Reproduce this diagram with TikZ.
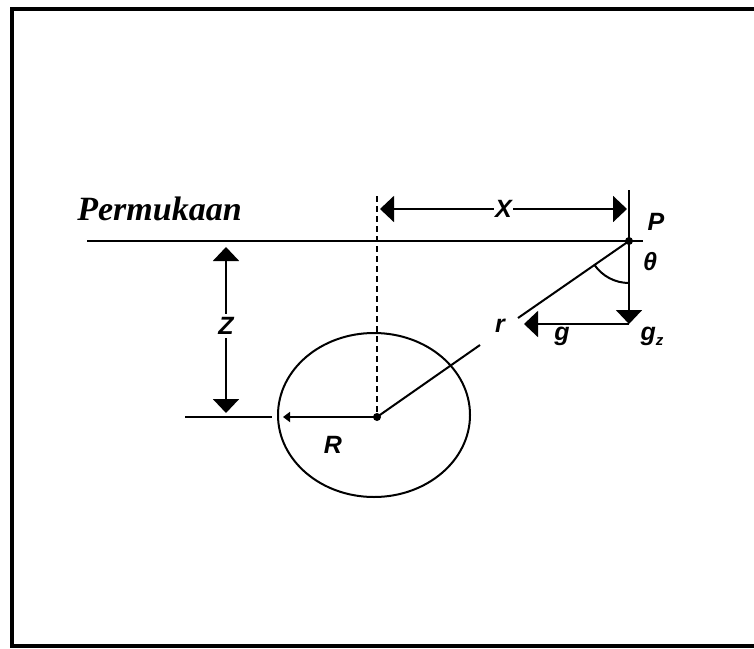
\documentclass[tikz,border=0pt]{standalone}
\usepackage{fontspec}
\setmainfont{Liberation Sans}
\newfontfamily\surffont{Liberation Serif}
\usetikzlibrary{arrows.meta}

\tikzset{
  lbl/.style={font=\fontsize{25}{30}\selectfont\bfseries\itshape, inner sep=1pt},
  bigtip/.style={-{Triangle[width=26pt,length=14pt]}},
  bigtips/.style={{Triangle[width=26pt,length=14pt]}-{Triangle[width=26pt,length=14pt]}},
}

\begin{document}
\begin{tikzpicture}[x=1pt, y=-1pt, line width=2pt]
    % --- canvas (pixel units, y downwards) ---
    \useasboundingbox (0,0) rectangle (754,648);
    \clip (0,0) rectangle (754,648);

    % --- frame ---
    \draw[line width=4pt] (770,9) -- (12,9) -- (12,646) -- (770,646);

    % --- points ---
    \coordinate (O) at (377,417);   % centre of the sphere
    \coordinate (P) at (629,241);   % observation point
    \coordinate (sL) at (87,241);
    \coordinate (sR) at (643,241);

    % --- surface ---
    \draw (sL) -- (sR);
    \node[font=\surffont\fontsize{34}{40}\selectfont\bfseries\itshape, anchor=base west] (surf) at (73,220) {Permukaan};

    % --- sphere ---
    \draw (374,415) ellipse [x radius=96, y radius=82];
    \fill (O) circle (4);
    \fill (P) circle (4);
    \draw[dash pattern=on 6pt off 4pt, line width=1.8pt] (377,196) -- (O);

    % --- horizontal distance X ---
    \coordinate (xL) at (380,209);
    \coordinate (xR) at (627,209);
    \draw[bigtips] (xL) -- (xR) node[lbl, midway, fill=white] (X) {X};
    \coordinate (tick) at (629,190);
    \draw (tick) -- (P);
    \node[lbl] (Plab) at (656,222) {P};

    % --- depth Z ---
    \coordinate (zT) at (226,247);
    \coordinate (zB) at (226,413);
    \draw[bigtips] (zT) -- (zB);
    \node[lbl, fill=white, inner sep=3pt] (Z) at (226,326) {Z};
    \coordinate (bL) at (185,417);
    \coordinate (bR) at (272,417);
    \draw (bL) -- (bR);

    % --- radius R ---
    \coordinate (rEnd) at (283,417);
    \draw[-{Triangle[width=10pt,length=7pt]}] (O) -- (rEnd);
    \node[lbl] (R) at (333,445) {R};

    % --- distance r ---
    \coordinate (rA) at (480,345);
    \coordinate (rB) at (518,318);
    \draw (O) -- (rA);
    \draw (rB) -- (P);
    \node[lbl] (r) at (500,326) {r};

    % --- angle theta ---
    \draw (P) ++(145:42) arc[start angle=145, end angle=90, radius=42];
    \node[lbl] (theta) at (650,262) {θ};

    % --- gravity components ---
    \coordinate (gz) at (629,324);
    \coordinate (gE) at (524,324);
    \draw[bigtip] (P) -- (gz);
    \draw[bigtip] (gz) -- (gE);
    \node[lbl] (g) at (562,336) {g};
    \node[lbl] (gzlab) at (652,336) {g\raisebox{-5pt}{\fontsize{15}{15}\selectfont\bfseries z}};
\end{tikzpicture}
\end{document}
